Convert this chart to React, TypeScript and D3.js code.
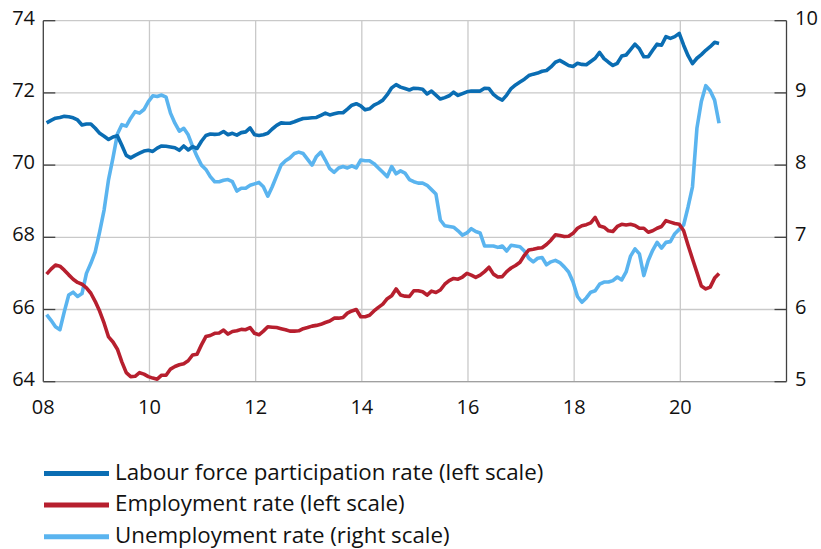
import React from "react";
import * as d3 from "d3";

const lfpr = [
  71.17, 71.24, 71.30, 71.32, 71.35, 71.34, 71.31, 71.25, 71.11, 71.14, 71.14, 71.02,
  70.88, 70.80, 70.71, 70.78, 70.81, 70.55, 70.27, 70.20, 70.27, 70.33, 70.39, 70.41,
  70.38, 70.47, 70.53, 70.52, 70.50, 70.48, 70.41, 70.53, 70.42, 70.51, 70.46, 70.66,
  70.82, 70.86, 70.85, 70.86, 70.93, 70.84, 70.88, 70.83, 70.90, 70.92, 71.03, 70.84,
  70.82, 70.84, 70.88, 71.00, 71.10, 71.17, 71.16, 71.16, 71.20, 71.25, 71.29, 71.30,
  71.31, 71.32, 71.38, 71.44, 71.39, 71.42, 71.45, 71.45, 71.55, 71.66, 71.70, 71.64,
  71.53, 71.56, 71.66, 71.72, 71.80, 71.95, 72.14, 72.23, 72.16, 72.12, 72.08, 72.13,
  72.12, 72.10, 71.97, 72.05, 71.94, 71.83, 71.87, 71.92, 72.02, 71.93, 71.98, 72.03,
  72.05, 72.05, 72.05, 72.13, 72.12, 71.96, 71.86, 71.80, 71.94, 72.12, 72.22, 72.30,
  72.38, 72.48, 72.52, 72.55, 72.60, 72.62, 72.72, 72.85, 72.90, 72.83, 72.76, 72.73,
  72.82, 72.79, 72.78, 72.87, 72.96, 73.12, 72.95, 72.85, 72.76, 72.82, 73.02, 73.05,
  73.20, 73.35, 73.22, 73.00, 73.00, 73.18, 73.35, 73.32, 73.56, 73.51, 73.56, 73.65,
  73.32, 73.03, 72.81, 72.96, 73.06, 73.18, 73.28, 73.40, 73.37,
];

const employment = [
  66.98, 67.12, 67.23, 67.20, 67.09, 66.96, 66.84, 66.75, 66.70, 66.60, 66.45, 66.22,
  65.95, 65.62, 65.24, 65.10, 64.90, 64.55, 64.25, 64.14, 64.15, 64.25, 64.21, 64.14,
  64.10, 64.07, 64.18, 64.18, 64.35, 64.42, 64.47, 64.50, 64.58, 64.74, 64.76, 65.02,
  65.25, 65.28, 65.34, 65.35, 65.43, 65.32, 65.39, 65.41, 65.45, 65.44, 65.50, 65.34,
  65.30, 65.40, 65.52, 65.51, 65.50, 65.47, 65.44, 65.40, 65.40, 65.41, 65.47, 65.50,
  65.54, 65.56, 65.59, 65.64, 65.68, 65.76, 65.76, 65.78, 65.90, 65.96, 66.00, 65.80,
  65.80, 65.84, 65.96, 66.06, 66.15, 66.30, 66.38, 66.57, 66.40, 66.37, 66.36, 66.52,
  66.52, 66.49, 66.40, 66.51, 66.47, 66.54, 66.70, 66.80, 66.86, 66.84, 66.90, 67.00,
  66.95, 66.89, 66.95, 67.05, 67.17, 66.98, 66.90, 66.91, 67.05, 67.15, 67.22, 67.31,
  67.50, 67.65, 67.67, 67.70, 67.71, 67.80, 67.92, 68.07, 68.05, 68.02, 68.03, 68.11,
  68.25, 68.32, 68.35, 68.40, 68.55, 68.31, 68.28, 68.18, 68.16, 68.30, 68.36, 68.34,
  68.36, 68.33, 68.25, 68.25, 68.14, 68.18, 68.25, 68.30, 68.46, 68.42, 68.38, 68.36,
  68.18, 67.78, 67.40, 67.03, 66.65, 66.57, 66.62, 66.87, 67.00,
];

const unemployment = [
  5.93, 5.85, 5.76, 5.72, 5.97, 6.20, 6.24, 6.18, 6.22, 6.50, 6.64, 6.80,
  7.08, 7.38, 7.80, 8.10, 8.43, 8.56, 8.54, 8.65, 8.74, 8.72, 8.77, 8.88,
  8.96, 8.95, 8.97, 8.94, 8.72, 8.58, 8.47, 8.51, 8.42, 8.26, 8.12, 8.00,
  7.94, 7.84, 7.77, 7.77, 7.79, 7.80, 7.77, 7.64, 7.68, 7.68, 7.72, 7.74,
  7.76, 7.70, 7.57, 7.70, 7.85, 8.00, 8.06, 8.10, 8.16, 8.18, 8.16, 8.08,
  8.00, 8.12, 8.18, 8.07, 7.95, 7.90, 7.96, 7.98, 7.96, 7.99, 7.96, 8.07,
  8.06, 8.06, 8.02, 7.96, 7.90, 7.84, 7.98, 7.88, 7.92, 7.89, 7.80, 7.77,
  7.75, 7.75, 7.72, 7.66, 7.60, 7.24, 7.16, 7.15, 7.14, 7.09, 7.03, 7.06,
  7.12, 7.08, 7.06, 6.88, 6.88, 6.88, 6.86, 6.88, 6.81, 6.89, 6.88, 6.87,
  6.81, 6.71, 6.66, 6.71, 6.72, 6.62, 6.66, 6.68, 6.65, 6.59, 6.52, 6.38,
  6.18, 6.10, 6.16, 6.24, 6.26, 6.35, 6.38, 6.38, 6.40, 6.45, 6.41, 6.52,
  6.74, 6.84, 6.77, 6.47, 6.68, 6.82, 6.93, 6.85, 6.93, 6.94, 7.05, 7.11,
  7.17, 7.42, 7.70, 8.51, 8.88, 9.10, 9.03, 8.90, 8.58,
];

const leftTicks = [64, 66, 68, 70, 72, 74];
const rightTicks = [5, 6, 7, 8, 9, 10];
const xTicks = [2008, 2010, 2012, 2014, 2016, 2018, 2020];
const xTickLabels = ["08", "10", "12", "14", "16", "18", "20"];

const legendItems = [
  { label: "Labour force participation rate (left scale)", color: "#0a6db3" },
  { label: "Employment rate (left scale)", color: "#b71f2e" },
  { label: "Unemployment rate (right scale)", color: "#5ab4ef" },
];

const FONT = "'Open Sans', Lato, sans-serif";

export default function App() {
  const left = 43.3;
  const right = 786.5;
  const top = 20.7;
  const bottom = 381.7;

  const x = d3.scaleLinear().domain([2008, 2022]).range([left, right]);
  const yL = d3.scaleLinear().domain([64, 74]).range([bottom, top]);
  const yR = d3.scaleLinear().domain([5, 10]).range([bottom, top]);
  const t = (i: number) => 2008 + (i + 0.75) / 12;

  const lineL = d3
    .line<number>()
    .x((_, i) => x(t(i)))
    .y((d) => yL(d));
  const lineR = d3
    .line<number>()
    .x((_, i) => x(t(i)))
    .y((d) => yR(d));

  const axisColor = "#404040";
  const gridColor = "#c9c9c9";
  const tickLen = 12;

  return (
    <svg
      width={821}
      height={549}
      style={{ position: "absolute", left: 0, top: 0, background: "#fff" }}
      fontFamily={FONT}
    >
      {leftTicks.map((v) => (
        <line key={"h" + v} x1={left} x2={right} y1={yL(v)} y2={yL(v)} stroke={gridColor} strokeWidth={1.3} />
      ))}
      {xTicks.slice(1).map((v) => (
        <line key={"v" + v} x1={x(v)} x2={x(v)} y1={top} y2={bottom} stroke={gridColor} strokeWidth={1.3} />
      ))}
      <line x1={left} x2={left} y1={top} y2={bottom} stroke={axisColor} strokeWidth={1.3} />
      <line x1={right} x2={right} y1={top} y2={bottom} stroke={axisColor} strokeWidth={1.3} />
      <line x1={left} x2={right} y1={bottom} y2={bottom} stroke="#a0a0a0" strokeWidth={1.3} />
      {leftTicks.map((v) => (
        <g key={"lt" + v}>
          <line x1={left} x2={left + tickLen} y1={yL(v)} y2={yL(v)} stroke={axisColor} strokeWidth={1.3} />
          <text x={35} y={yL(v)} dy={4} textAnchor="end" fontSize={20} fill="#111">
            {v}
          </text>
        </g>
      ))}
      {rightTicks.map((v) => (
        <g key={"rt" + v}>
          <line x1={right - tickLen} x2={right} y1={yR(v)} y2={yR(v)} stroke={axisColor} strokeWidth={1.3} />
          <text x={795} y={yR(v)} dy={4} textAnchor="start" fontSize={20} fill="#111">
            {v}
          </text>
        </g>
      ))}
      {xTicks.map((v, i) => (
        <text key={"xt" + v} x={x(v)} y={413.5} textAnchor="middle" fontSize={20} fill="#111">
          {xTickLabels[i]}
        </text>
      ))}
      <path d={lineR(unemployment) || ""} fill="none" stroke={legendItems[2].color} strokeWidth={3.6} strokeLinejoin="round" />
      <path d={lineL(employment) || ""} fill="none" stroke={legendItems[1].color} strokeWidth={3.6} strokeLinejoin="round" />
      <path d={lineL(lfpr) || ""} fill="none" stroke={legendItems[0].color} strokeWidth={3.6} strokeLinejoin="round" />
      {legendItems.map((d, i) => {
        const ly = 473.5 + i * 31.6;
        return (
          <g key={d.label}>
            <line x1={44} x2={109} y1={ly} y2={ly} stroke={d.color} strokeWidth={5} />
            <text x={115} y={ly} dy={6} fontSize={22.3} fill="#111">
              {d.label}
            </text>
          </g>
        );
      })}
    </svg>
  );
}
